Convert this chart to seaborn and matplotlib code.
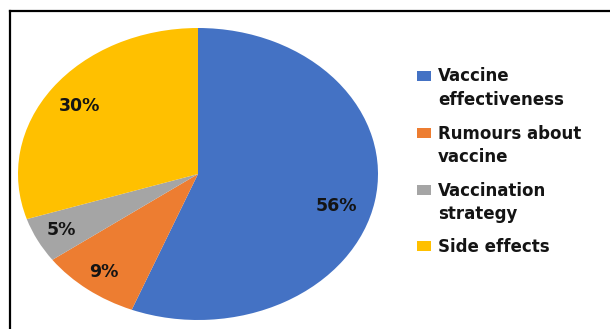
import numpy as np
import pandas as pd
import matplotlib
matplotlib.use("Agg")
import matplotlib.pyplot as plt
import matplotlib.transforms as mtransforms
from matplotlib.patches import Rectangle
from matplotlib.lines import Line2D
import seaborn as sns

# ---- data ----
categories = ["Vaccine effectiveness", "Rumours about vaccine",
              "Vaccination strategy", "Side effects"]
legend_lines = [["Vaccine", "effectiveness"], ["Rumours about", "vaccine"],
                ["Vaccination", "strategy"], ["Side effects"]]
shares = [56, 9, 5, 30]
colors = ["#4472C4", "#ED7D31", "#A5A5A5", "#FFC000"]

# ---- style ----
sns.set_theme(style="white")
plt.rcParams["font.family"] = ["DejaVu Sans"]

W, H = 610, 329
fig = plt.figure(figsize=(W / 100, H / 100), dpi=100)
fig.patch.set_facecolor("white")

# pie axes (pixel box of the ellipse)
ax = fig.add_axes([18 / W, (H - 320) / H, 360 / W, 292 / H])
wedges, texts, autotexts = ax.pie(
    shares, colors=colors, startangle=90, counterclock=False,
    autopct=lambda p: f"{p:.0f}%", pctdistance=0.85, radius=1,
    wedgeprops=dict(linewidth=0),
    textprops=dict(fontsize=12.5, fontweight="bold", color="#141414"),
)
ax.set_aspect("auto")
ax.set_xlim(-1, 1)
ax.set_ylim(-1, 1)
ax.axis("off")

# small label nudges (pixels) to mimic the original placement
nudges = [(-12, -9), (0, 0), (0, 0), (5, -5)]
for t, (dx, dy) in zip(autotexts, nudges):
    t.set_transform(mtransforms.offset_copy(t.get_transform(), fig=fig,
                                            x=dx, y=dy, units="dots"))

# ---- manual legend (handle aligned with the first text line) ----
marker_centers = [75.7, 133, 190, 246]
line_gap = 23.5
for lines, col, yc in zip(legend_lines, colors, marker_centers):
    fig.add_artist(Rectangle((417 / W, (H - yc - 5) / H), 14 / W, 10 / H,
                             transform=fig.transFigure, facecolor=col,
                             edgecolor="none"))
    for k, line in enumerate(lines):
        yb = yc + 5.5 + k * line_gap
        fig.text(438 / W, (H - yb) / H, line, fontsize=12, fontweight="bold",
                 color="#141414", ha="left", va="baseline")

# ---- frame lines (partial border of the original box) ----
fig.add_artist(Line2D([9.5 / W, 9.5 / W], [0, (H - 11) / H],
                      transform=fig.transFigure, color="black", lw=1.6,
                      solid_capstyle="projecting"))
fig.add_artist(Line2D([9.5 / W, 1.0], [(H - 11) / H, (H - 11) / H],
                      transform=fig.transFigure, color="black", lw=1.6,
                      solid_capstyle="projecting"))

fig.savefig("out.png", dpi=100, facecolor="white")
